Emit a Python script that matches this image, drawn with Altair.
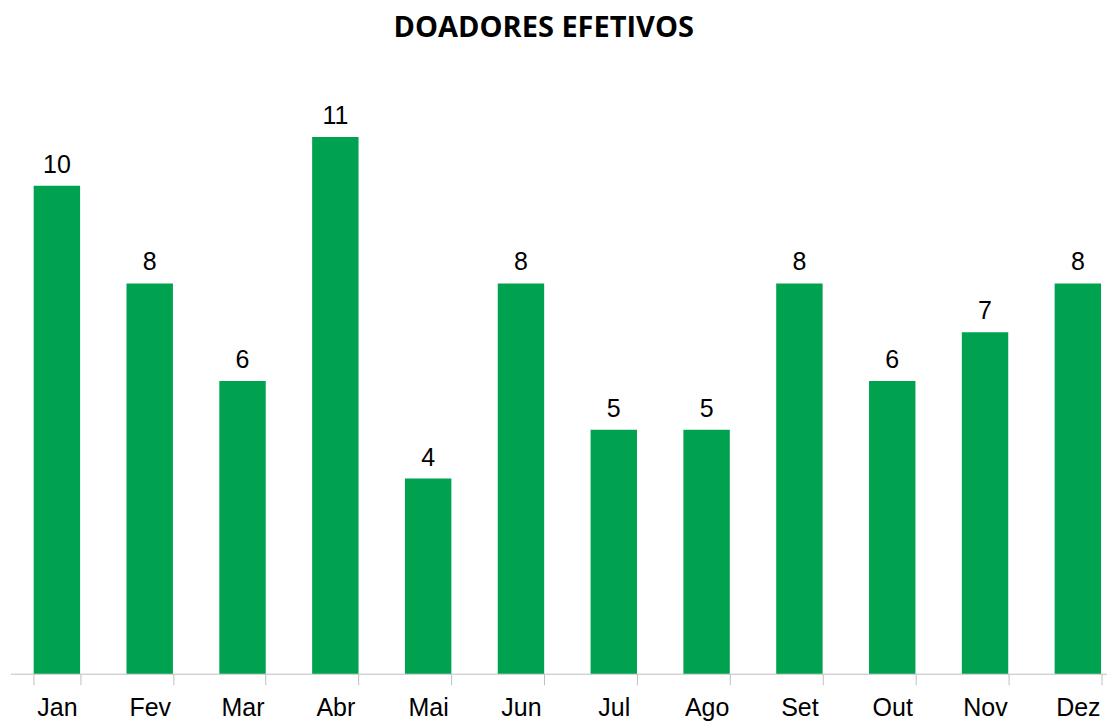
import altair as alt
import pandas as pd

months = ["Jan", "Fev", "Mar", "Abr", "Mai", "Jun", "Jul", "Ago", "Set", "Out", "Nov", "Dez"]
values = [10, 8, 6, 11, 4, 8, 5, 5, 8, 6, 7, 8]

df = pd.DataFrame({"mes": months, "valor": values})

x = alt.X("mes:N", sort=months, title=None,
          scale=alt.Scale(paddingInner=0.5, paddingOuter=0.157, align=0.796, round=False),
          axis=alt.Axis(labelAngle=0, labelFont="Liberation Sans", labelFontSize=25,
                        labelColor="#000000", tickSize=11, tickColor="#bfbfbf",
                        domainColor="#bfbfbf", labelPadding=11, tickBand="extent",
                        grid=False))
y = alt.Y("valor:Q", title=None, scale=alt.Scale(domain=[0, 12], nice=False),
          axis=None)

bars = alt.Chart(df).mark_bar(color="#00A14F").encode(x=x, y=y)
labels = alt.Chart(df).mark_text(font="Liberation Sans", fontSize=25, color="#000000",
                                 baseline="alphabetic", dy=-13).encode(
    x=alt.X("mes:N", sort=months), y="valor:Q", text="valor:Q")

chart = (bars + labels).properties(
    width=1097.5, height=586,
    title=alt.TitleParams("DOADORES EFETIVOS", font="Open Sans", fontSize=29,
                          fontWeight="bold", color="#000000", anchor="middle",
                          dx=-15, offset=45),
    padding={"left": 2.5, "top": 80, "right": 0, "bottom": 48},
    autosize=alt.AutoSizeParams(type="none"),
).configure_view(stroke=None)

chart.save("out.html", embed_options={"renderer": "svg", "actions": False})
